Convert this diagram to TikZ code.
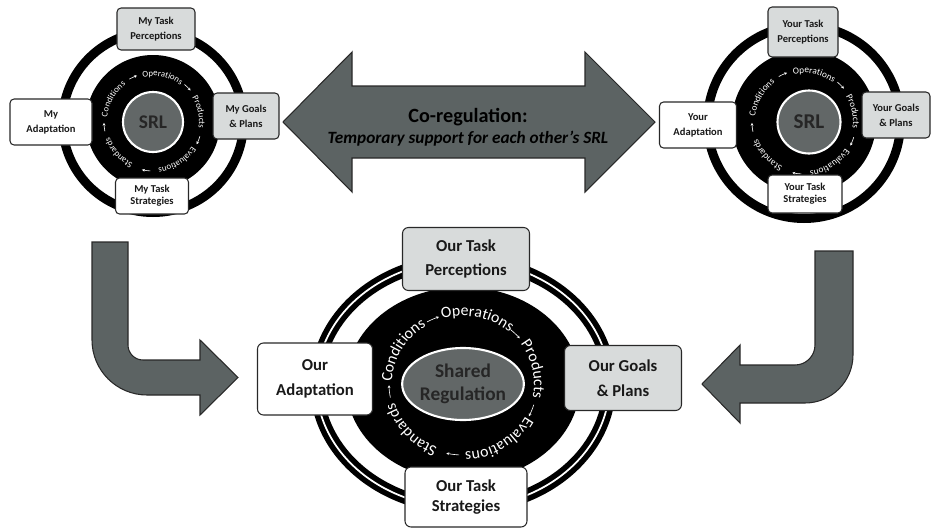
\documentclass[tikz,border=0pt]{standalone}
\usepackage{fontspec}
\setmainfont{Carlito}
\usepackage{xcolor}
\usepackage{tikz}
\usetikzlibrary{calc,shapes.geometric,decorations.text,arrows.meta}

\definecolor{arrowgray}{RGB}{92,99,99}
\definecolor{boxgray}{RGB}{216,219,219}
\definecolor{srlgray}{RGB}{98,103,103}
\definecolor{edgegray}{RGB}{40,40,40}

% words and little arrows round a ring: centre, x radius, y radius, font size
\newcommand{\ringtext}[4]{%
  \foreach \ang/\word in {150/Conditions,78/Operations,12/Products,-58/Evaluations,-138/Standards}{
    \path[decorate,decoration={text along path,text align=center,text color=white,
      text/.expanded={|\noexpand\fontsize{#4}{#4}\noexpand\selectfont|\word}}]
      (#1) ++({#2*cos(\ang+45)},{#3*sin(\ang+45)}) arc[start angle=\ang+45,end angle=\ang-45,x radius=#2,y radius=#3];}
  \foreach \ang in {114,45,-22,-98,-174}{
    \draw[white,line width=.35pt,-{Stealth[length=1.6pt,width=1.6pt]}]
      (#1) ++({(#2+3)*cos(\ang+5)},{(#3+3)*sin(\ang+5)}) arc[start angle=\ang+5,end angle=\ang-5,x radius=#2+3,y radius=#3+3];}}

\begin{document}
\begin{tikzpicture}[x=0.02cm,y=0.02cm,
  box/.style 2 args={draw=edgegray,line width=.6pt,rounded corners=2.3pt,align=center,inner sep=0pt,
    minimum width=#1*.02cm,minimum height=#2*.02cm,text=black!90},
  smallfont/.style={font=\bfseries\fontsize{6}{8.5}\selectfont},
  bigfont/.style={font=\bfseries\fontsize{9.5}{14}\selectfont,rounded corners=3.4pt},
  srl/.style={circle,fill=srlgray,draw=white,line width=1.2pt,inner sep=0pt,text=black!85},
  bentarrow/.style={fill=arrowgray,draw=edgegray,line width=.6pt}]
\useasboundingbox (0,0) rectangle (931,529);

% co-regulation arrow
\filldraw[bentarrow](283,407)--(352,477)--(352,443)--(585,443)--(585,477)--(655,407)--(585,337)--(585,371)--(352,371)--(352,337)--cycle;
\node[align=center,font=\bfseries](coreg) at (468,402){\fontsize{11.5}{13}\selectfont Co-regulation:\\\fontsize{9.8}{11}\selectfont\itshape Temporary support for each other’s SRL};

% bent arrows down to the shared ring
\filldraw[bentarrow](92,287)--(92,189) arc[start angle=180,end angle=270,radius=55]--(200,134)--(200,114)--(238,151.5)--(200,189)--(200,169)--(143,169) arc[start angle=270,end angle=180,radius=15]--(128,287)--cycle;
\filldraw[bentarrow](853,278)--(853,174) arc[start angle=0,end angle=-90,radius=48]--(740,126)--(740,106)--(702,145)--(740,184)--(740,164)--(795,164) arc[start angle=-90,end angle=0,radius=20]--(815,278)--cycle;

% my SRL
\coordinate(c1) at (153,407);
\fill[even odd rule](c1) circle[radius=95] circle[radius=86];
\fill(c1) circle[radius=67];
\node[srl,minimum size=1.2cm,font=\bfseries\fontsize{11}{11}\selectfont](srl1) at (c1){SRL};
\ringtext{c1}{46}{46}{5}
\node[box={78}{42},smallfont,fill=boxgray](myPer) at (156,500){My Task\\Perceptions};
\node[box={82}{46},smallfont,fill=white](myAda) at (51,407){My\\Adaptation};
\node[box={66}{46},smallfont,fill=boxgray](myGoa) at (246,413){My Goals\\\& Plans};
\node[box={73}{36},smallfont,fill=white,font=\bfseries\fontsize{6}{7}\selectfont](myStr) at (152,333){My Task\\Strategies};

% your SRL
\coordinate(c2) at (804,407);
\fill[even odd rule](c2) circle[radius=101] circle[radius=92];
\fill(c2) circle[radius=72];
\node[srl,minimum size=1.26cm,font=\bfseries\fontsize{12}{12}\selectfont](srl2) at (809,407){SRL};
\ringtext{c2}{49}{49}{5.3}
\node[box={70}{50},smallfont,fill=boxgray](yoPer) at (803,497){Your Task\\Perceptions};
\node[box={77}{46},smallfont,fill=white](yoAda) at (698,404){Your\\Adaptation};
\node[box={68}{46},smallfont,fill=boxgray](yoGoa) at (896,414){Your Goals\\\& Plans};
\node[box={74}{38},smallfont,fill=white,font=\bfseries\fontsize{6}{7}\selectfont](yoStr) at (805,335){Your Task\\Strategies};

% shared regulation
\coordinate(c3) at (463,145);
\fill[even odd rule](c3) ellipse[x radius=153,y radius=130] ellipse[x radius=140,y radius=117];
\draw[white,line width=1pt](c3) ellipse[x radius=146.5,y radius=123.5];
\fill(c3) ellipse[x radius=117,y radius=97];
\node[srl,ellipse,minimum width=2.4cm,minimum height=1.44cm,align=center,font=\bfseries\fontsize{11}{13}\selectfont](shared) at (c3){Shared\\Regulation};
\ringtext{c3}{71}{68}{9}
\node[box={127}{63},bigfont,fill=boxgray](ourPer) at (466,270){Our Task\\Perceptions};
\node[box={115}{72},bigfont,fill=white](ourAda) at (315,150){Our\\Adaptation};
\node[box={117}{65},bigfont,fill=boxgray](ourGoa) at (623,151){Our Goals\\\& Plans};
\node[box={122}{60},bigfont,fill=white,font=\bfseries\fontsize{9.5}{11}\selectfont](ourStr) at (466,32){Our Task\\Strategies};
\end{tikzpicture}
\end{document}
